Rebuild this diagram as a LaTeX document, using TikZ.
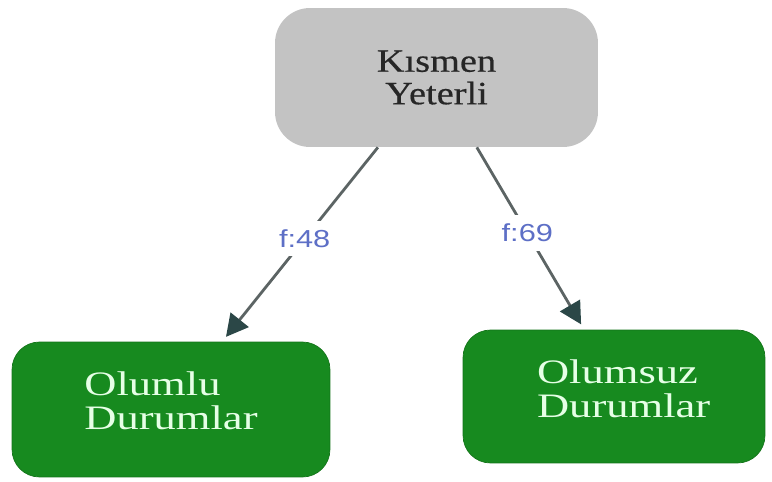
\documentclass[tikz,border=0pt]{standalone}
\usepackage{fontspec}
\setmainfont{Liberation Serif}
\newfontfamily\grayfont[FakeStretch=1.18,FakeBold=0.5]{Liberation Serif}
\newfontfamily\greenfont[FakeStretch=1.3]{Liberation Serif}
\newfontfamily\edgefont[FakeStretch=1.25]{Liberation Sans}
\usetikzlibrary{arrows.meta}
\definecolor{boxgray}{HTML}{C3C3C3}
\definecolor{boxgreen}{HTML}{178A1F}
\definecolor{linegray}{HTML}{5C6464}
\definecolor{tipslate}{HTML}{2B4747}
\definecolor{labelblue}{HTML}{5D6FC6}
\definecolor{textgreen}{HTML}{E6FFE6}

\begin{document}
\begin{tikzpicture}
[x=0.02cm,y=-0.02cm,
 graydecorate/.style={shape=rectangle,rounded corners=0.7cm,fill=boxgray,
   minimum width=6.46cm,minimum height=2.78cm,align=center,text=black!85,
   font=\grayfont\fontsize{18.5}{18.5}\selectfont},
 greendecorate/.style={shape=rectangle,rounded corners=0.55cm,fill=boxgreen,
   draw=boxgreen!85!black,thin},
 greentext/.style={align=left,text=textgreen,
   font=\greenfont\fontsize{19.5}{19.5}\selectfont},
 linedecorate/.style={-{Triangle[length=12.5pt,width=13pt,color=tipslate]},
   line width=1.6pt,draw=linegray,shorten >=3.5pt},
 labeldecorate/.style={fill=white,inner xsep=2pt,inner ysep=5pt,text=labelblue,
   font=\edgefont\fontsize{14}{14}\selectfont}]
\useasboundingbox (0,0) rectangle (772,481);
%% nodes
\node (kismen) at (436.5,77.5) [graydecorate] {Kısmen\\Yeterli};
\node (olumlu) at (171,409.5) [greendecorate,minimum width=6.36cm,minimum height=2.7cm,
  label={[greentext,yshift=5pt]center:Olumlu\\Durumlar}] {};
\node (olumsuz) at (614,396.5) [greendecorate,minimum width=6.04cm,minimum height=2.66cm,
  label={[greentext,xshift=5.5pt,yshift=4.5pt]center:Olumsuz\\Durumlar}] {};
%% edges
\path
\foreach \startnode/\sa/\endnode/\ea/\flab in {kismen/230.3/olumlu/53.5/f:48,
  kismen/300.5/olumsuz/114.3/f:69} {
  (\startnode.\sa) edge[linedecorate] node[labeldecorate,pos=0.47] {\flab} (\endnode.\ea)
};
\end{tikzpicture}
\end{document}
